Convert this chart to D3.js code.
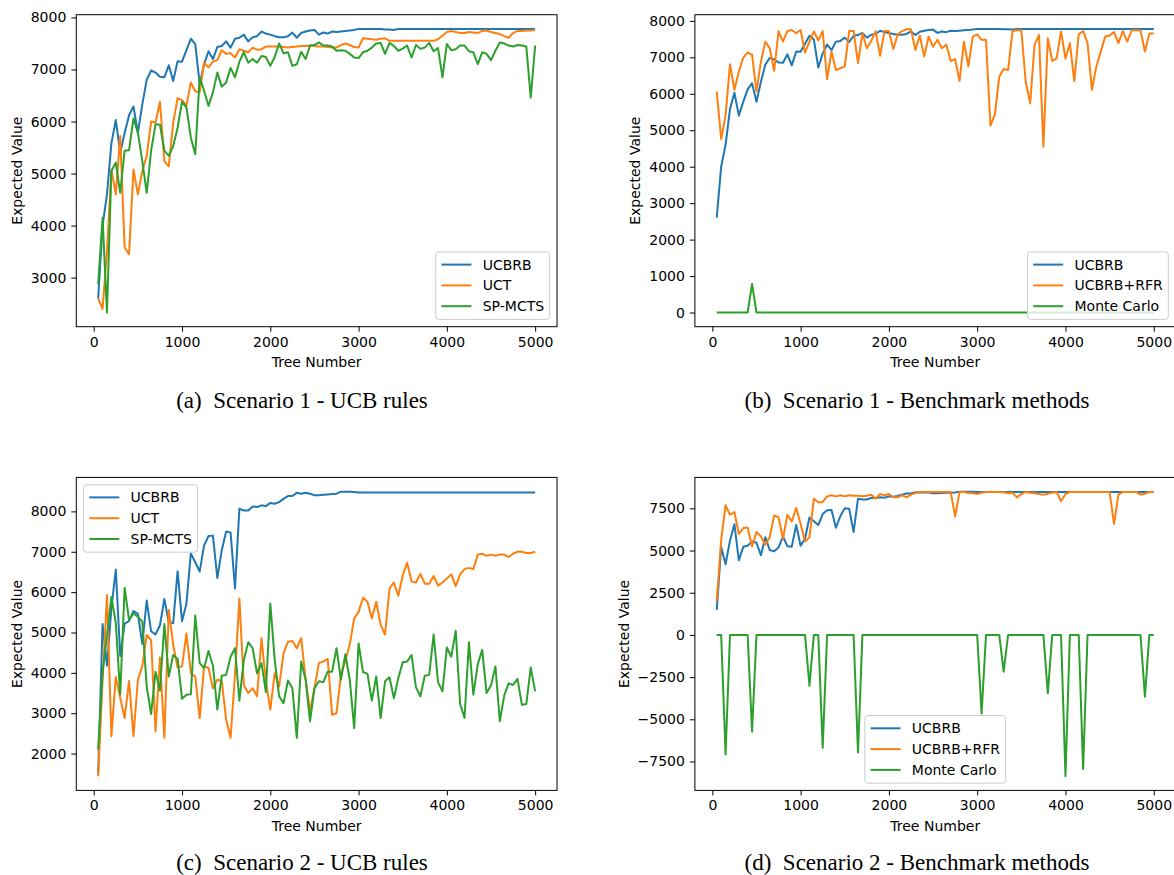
<!DOCTYPE html>
<html>
<head>
<meta charset="utf-8">
<script src="https://cdn.jsdelivr.net/npm/d3@7"></script>
<style>
  body { margin: 0; background: #fff; }
  svg text { font-family: "DejaVu Sans", sans-serif; fill: #000; }
  .caption { font-family: "Liberation Serif", "Times New Roman", serif; font-size: 23px; white-space: pre; }
</style>
</head>
<body>
<svg id="fig" width="1174" height="875"></svg>
<script>
// tree numbers sampled every 50 trees
const treeNumbers = d3.range(50, 5001, 50);
const xTicks = [0, 1000, 2000, 3000, 4000, 5000];

// Scenario 1
const s1UCBRB = [2600, 4000, 4600, 5580, 6030, 5400, 5780, 6120, 6290, 5780,
  6330, 6800, 6980, 6940, 6860, 6850, 7080, 6780, 7160, 7150,
  7370, 7590, 7490, 6720, 7100, 7350, 7200, 7430, 7450, 7540,
  7420, 7590, 7610, 7670, 7540, 7620, 7640, 7730, 7690, 7670,
  7640, 7620, 7620, 7640, 7710, 7610, 7700, 7730, 7750, 7760,
  7670, 7710, 7690, 7730, 7720, 7730, 7740, 7750, 7760, 7780,
  7780, 7780, 7780, 7780, 7780, 7770, 7770, 7760, 7780, 7780,
  7780, 7780, 7780, 7780, 7780, 7780, 7780, 7780, 7780, 7780,
  7780, 7780, 7780, 7780, 7780, 7780, 7780, 7780, 7780, 7780,
  7780, 7780, 7780, 7780, 7780, 7780, 7780, 7780, 7780, 7780];
const s1UCT = [2600, 2400, 3500, 5080, 4600, 5720, 3580, 3450, 5080, 4600,
  5050, 5340, 6000, 5980, 6380, 5240, 5140, 5980, 6450, 6410,
  6300, 6750, 6580, 6560, 7130, 7040, 7150, 7180, 7370, 7300,
  7310, 7230, 7390, 7360, 7330, 7420, 7380, 7390, 7440, 7440,
  7440, 7440, 7430, 7420, 7430, 7440, 7450, 7450, 7460, 7450,
  7440, 7440, 7430, 7420, 7420, 7470, 7500, 7470, 7430, 7420,
  7600, 7590, 7580, 7570, 7590, 7600, 7550, 7550, 7550, 7550,
  7550, 7550, 7550, 7550, 7550, 7550, 7550, 7580, 7650, 7720,
  7740, 7720, 7700, 7700, 7720, 7710, 7700, 7740, 7750, 7720,
  7700, 7680, 7640, 7610, 7700, 7740, 7740, 7750, 7750, 7760];
const s1SPMCTS = [2870, 4150, 2330, 5050, 5210, 4630, 5440, 5450, 6060, 5790,
  5240, 4630, 5440, 5950, 5940, 5440, 5340, 5530, 5880, 6380,
  6270, 5690, 5370, 6850, 6590, 6300, 6560, 6940, 6670, 6750,
  7030, 6850, 7150, 7330, 7130, 7200, 7130, 7260, 7240, 7070,
  7240, 7500, 7310, 7330, 7070, 7100, 7340, 7200, 7460, 7470,
  7520, 7460, 7460, 7440, 7360, 7370, 7360, 7300, 7230, 7220,
  7330, 7360, 7420, 7500, 7510, 7300, 7510, 7450, 7360, 7400,
  7460, 7230, 7470, 7400, 7420, 7510, 7350, 7410, 6850, 7490,
  7370, 7390, 7460, 7460, 7350, 7330, 7100, 7330, 7300, 7180,
  7360, 7520, 7500, 7460, 7440, 7470, 7460, 7440, 6460, 7460];
const s1RFR = [6060, 4760, 5400, 6810, 6110, 6610, 6990, 7130, 7070, 6060,
  6880, 7430, 7250, 6630, 7720, 7430, 7720, 7750, 7660, 7750,
  7130, 7430, 7710, 7460, 7720, 6400, 7160, 6650, 6700, 6750,
  7720, 7720, 6840, 7660, 7250, 7450, 7720, 7040, 7720, 7720,
  7230, 7630, 7720, 7770, 7770, 7200, 7600, 7020, 7570, 7290,
  7480, 7250, 7350, 6900, 6950, 6350, 7430, 6750, 7570, 7630,
  7480, 7480, 5130, 5420, 6470, 6680, 6650, 7720, 7740, 7740,
  6330, 5740, 7340, 7610, 4550, 7520, 6900, 6970, 7710, 6960,
  7390, 6350, 7630, 7720, 7390, 6110, 6750, 7160, 7570, 7600,
  7690, 7390, 7720, 7430, 7740, 7740, 7740, 7160, 7650, 7650];
const s1MonteCarlo = [0, 0, 0, 0, 0, 0, 0, 0, 780, 0,
  0, 0, 0, 0, 0, 0, 0, 0, 0, 0,
  0, 0, 0, 0, 0, 0, 0, 0, 0, 0,
  0, 0, 0, 0, 0, 0, 0, 0, 0, 0,
  0, 0, 0, 0, 0, 0, 0, 0, 0, 0,
  0, 0, 0, 0, 0, 0, 0, 0, 0, 0,
  0, 0, 0, 0, 0, 0, 0, 0, 0, 0,
  0, 0, 0, 0, 0, 0, 0, 0, 0, 0,
  0, 0, 0, 0, 0, 0, 0, 0, 0, 0,
  0, 0, 0, 0, 0, 0, 0, 0, 0, 0];

// Scenario 2
const s2UCBRB = [1480, 5210, 4180, 5600, 6560, 4420, 5220, 5280, 5530, 5460,
  4720, 5790, 5030, 4950, 5180, 5830, 5260, 5230, 6520, 5280,
  5710, 6960, 6740, 6510, 7160, 7390, 7400, 6350, 7040, 7500,
  7480, 6090, 8070, 8020, 8020, 8120, 8110, 8150, 8130, 8210,
  8190, 8230, 8310, 8380, 8380, 8460, 8440, 8460, 8440, 8400,
  8400, 8410, 8420, 8430, 8440, 8490, 8490, 8490, 8480, 8470,
  8470, 8470, 8470, 8470, 8470, 8470, 8470, 8470, 8470, 8470,
  8470, 8470, 8470, 8470, 8470, 8470, 8470, 8470, 8470, 8470,
  8470, 8470, 8470, 8470, 8470, 8470, 8470, 8470, 8470, 8470,
  8470, 8470, 8470, 8470, 8470, 8470, 8470, 8470, 8470, 8470];
const s2UCT = [1440, 3800, 5930, 2430, 3900, 3380, 2880, 3800, 2430, 3830,
  4160, 4940, 4810, 2550, 4380, 2390, 5560, 4690, 4130, 4160,
  4980, 3990, 3910, 2880, 4160, 4120, 3620, 3830, 3800, 2840,
  2390, 3950, 5840, 3700, 3500, 3620, 3420, 4860, 3790, 3090,
  3990, 3660, 4490, 4770, 4790, 4610, 4860, 3850, 3050, 3620,
  4240, 4280, 4350, 2960, 3000, 3950, 4300, 4700, 5350, 5510,
  5860, 5760, 5350, 5760, 5190, 4950, 6090, 6240, 5910, 6420,
  6730, 6260, 6240, 6450, 6210, 6210, 6400, 6160, 6240, 6340,
  6440, 6150, 6440, 6570, 6600, 6570, 6930, 6950, 6900, 6930,
  6900, 6930, 6930, 6870, 6950, 7000, 7000, 6970, 6970, 7000];
const s2SPMCTS = [2100, 4000, 4940, 5880, 5230, 3460, 6110, 5310, 5470, 5390,
  5270, 3660, 2980, 4030, 3560, 5210, 3910, 4440, 4350, 3360,
  3460, 3470, 5420, 4240, 4120, 4540, 4180, 3090, 3930, 3950,
  4400, 4610, 3310, 4320, 4760, 4610, 3990, 4240, 3520, 5720,
  4320, 3420, 3250, 3810, 3620, 2390, 4280, 3830, 2800, 3620,
  3790, 3770, 4030, 4030, 4610, 3830, 4460, 3830, 2630, 4730,
  4020, 3980, 3310, 3910, 2880, 3790, 3890, 3370, 3870, 4260,
  4280, 4440, 3640, 3420, 3930, 3950, 4950, 3770, 3540, 4630,
  4400, 5040, 3230, 2880, 4760, 3460, 4210, 4570, 3500, 3690,
  4160, 2800, 3440, 3740, 3700, 3850, 3210, 3230, 4130, 3540];
const s2RFR = [2020, 5640, 7680, 7120, 7280, 5980, 6330, 6370, 5240, 6100,
  5840, 5340, 5780, 7080, 6970, 5700, 7120, 6730, 7520, 6570,
  5540, 5780, 8070, 7860, 7880, 8210, 8270, 8210, 8270, 8210,
  8270, 8250, 8250, 8210, 8250, 8310, 8070, 8350, 8270, 8350,
  8150, 8150, 8270, 8150, 8310, 8410, 8470, 8470, 8470, 8470,
  8470, 8470, 8470, 8470, 7030, 8470, 8470, 8410, 8390, 8350,
  8430, 8470, 8470, 8470, 8470, 8450, 8400, 8430, 8150, 8350,
  8470, 8430, 8390, 8350, 8310, 8370, 8430, 8470, 7920, 8350,
  8470, 8470, 8470, 8470, 8470, 8470, 8470, 8470, 8470, 8470,
  6580, 8310, 8470, 8470, 8470, 8470, 8310, 8370, 8470, 8470];
const s2MonteCarlo = [0, 0, -7080, 0, 0, 0, 0, 0, -5740, 0,
  0, 0, 0, 0, 0, 0, 0, 0, 0, 0,
  0, -3010, 0, 0, -6690, 0, 0, 0, 0, 0,
  0, 0, -6970, 0, 0, 0, 0, 0, 0, 0,
  0, 0, 0, 0, 0, 0, 0, 0, 0, 0,
  0, 0, 0, 0, 0, 0, 0, 0, 0, 0,
  -4650, 0, 0, 0, 0, -2180, 0, 0, 0, 0,
  0, 0, 0, 0, 0, -3460, 0, 0, 0, -8370,
  0, 0, 0, -7950, 0, 0, 0, 0, 0, 0,
  0, 0, 0, 0, 0, 0, 0, -3660, 0, 0];

const yTicksA = [3000, 4000, 5000, 6000, 7000, 8000];
const yTicksB = [0, 1000, 2000, 3000, 4000, 5000, 6000, 7000, 8000];
const yTicksC = [2000, 3000, 4000, 5000, 6000, 7000, 8000];
const yTicksD = [-7500, -5000, -2500, 0, 2500, 5000, 7500];

const ucbNames = ["UCBRB", "UCT", "SP-MCTS"];
const benchNames = ["UCBRB", "UCBRB+RFR", "Monte Carlo"];
const captions = ["(a)  Scenario 1 - UCB rules", "(b)  Scenario 1 - Benchmark methods",
  "(c)  Scenario 2 - UCB rules", "(d)  Scenario 2 - Benchmark methods"];

const colors = ["#1f77b4", "#ff7f0e", "#2ca02c"];
const fontSize = 14;

// plot boxes
const colLeft = [76.3, 694.9];
const rowTop = [14.7, 477.4];
const plotW = 480.7;
const plotH = [312, 313];
const captionX = [302, 917];
const captionY = [408, 870];

const panels = [
  { col: 0, row: 0, yTicks: yTicksA, names: ucbNames, data: [s1UCBRB, s1UCT, s1SPMCTS], legend: "lower right", caption: captions[0] },
  { col: 1, row: 0, yTicks: yTicksB, names: benchNames, data: [s1UCBRB, s1RFR, s1MonteCarlo], legend: "lower right", caption: captions[1] },
  { col: 0, row: 1, yTicks: yTicksC, names: ucbNames, data: [s2UCBRB, s2UCT, s2SPMCTS], legend: "upper left", caption: captions[2] },
  { col: 1, row: 1, yTicks: yTicksD, names: benchNames, data: [s2UCBRB, s2RFR, s2MonteCarlo], legend: "lower center", caption: captions[3] }
];

const svg = d3.select("#fig");
svg.append("rect").attr("width", 1174).attr("height", 875).attr("fill", "#fff");

panels.forEach((p) => {
  const left = colLeft[p.col];
  const top = rowTop[p.row];
  const height = plotH[p.row];

  // matplotlib style 5% margins
  const xPad = (d3.max(treeNumbers) - d3.min(treeNumbers)) * 0.05;
  const x = d3.scaleLinear()
    .domain([d3.min(treeNumbers) - xPad, d3.max(treeNumbers) + xPad])
    .range([0, plotW]);
  const allVals = p.data.flat();
  const yMin = d3.min(allVals), yMax = d3.max(allVals);
  const yPad = (yMax - yMin) * 0.05;
  const y = d3.scaleLinear()
    .domain([yMin - yPad, yMax + yPad])
    .range([height, 0]);

  const g = svg.append("g").attr("transform", `translate(${left}, ${top})`);

  // lines
  const line = d3.line()
    .x((d, i) => x(treeNumbers[i]))
    .y((d) => y(d));
  p.data.forEach((vals, i) => {
    g.append("path")
      .datum(vals)
      .attr("fill", "none")
      .attr("stroke", colors[i])
      .attr("stroke-width", 2)
      .attr("stroke-linejoin", "round")
      .attr("d", line);
  });

  // axes
  const xAxis = g.append("g")
    .attr("transform", `translate(0, ${height})`)
    .call(d3.axisBottom(x).tickValues(xTicks).tickSize(5).tickPadding(5).tickFormat(d3.format("d")));
  const yAxis = g.append("g")
    .call(d3.axisLeft(y).tickValues(p.yTicks).tickSize(5).tickPadding(5).tickFormat(d3.format("d")));
  [xAxis, yAxis].forEach((ax) => {
    ax.select(".domain").remove();
    ax.selectAll(".tick line").attr("stroke", "#000").attr("stroke-width", 1);
    ax.selectAll(".tick text").style("font-size", fontSize + "px").style("font-family", "DejaVu Sans");
  });

  // frame
  g.append("rect")
    .attr("width", plotW)
    .attr("height", height)
    .attr("fill", "none")
    .attr("stroke", "#000")
    .attr("stroke-width", 1);

  // axis titles
  g.append("text")
    .attr("x", plotW / 2)
    .attr("y", height + 40.5)
    .attr("text-anchor", "middle")
    .style("font-size", fontSize + "px")
    .text("Tree Number");

  let minX = 0;
  yAxis.selectAll(".tick text").each(function () {
    const b = this.getBBox();
    minX = Math.min(minX, b.x - 5);
  });
  g.append("text")
    .attr("transform", `translate(${minX - 4}, ${height / 2}) rotate(-90)`)
    .attr("text-anchor", "middle")
    .style("font-size", fontSize + "px")
    .text("Expected Value");

  // legend
  const lg = g.append("g");
  const box = lg.append("rect")
    .attr("fill", "#fff")
    .attr("fill-opacity", 0.8)
    .attr("stroke", "#cccccc")
    .attr("stroke-width", 1)
    .attr("rx", 3);
  let textW = 0;
  p.names.forEach((name, i) => {
    const cy = 12.7 + i * 20.8;
    lg.append("line")
      .attr("x1", 5.7).attr("x2", 35.7)
      .attr("y1", cy).attr("y2", cy)
      .attr("stroke", colors[i])
      .attr("stroke-width", 2);
    const t = lg.append("text")
      .attr("x", 47)
      .attr("y", cy + 5)
      .style("font-size", fontSize + "px")
      .text(name);
    textW = Math.max(textW, t.node().getComputedTextLength());
  });
  const boxW = 47 + textW + 5.6;
  const boxH = 67.5;
  box.attr("width", boxW).attr("height", boxH);
  const pad = 7.3;
  let lx, ly;
  if (p.legend === "lower right") { lx = plotW - pad - boxW; ly = height - pad - boxH; }
  else if (p.legend === "upper left") { lx = pad; ly = pad; }
  else { lx = (plotW - boxW) / 2; ly = height - pad - boxH; }
  lg.attr("transform", `translate(${lx}, ${ly})`);

  // caption
  svg.append("text")
    .attr("class", "caption")
    .attr("x", captionX[p.col])
    .attr("y", captionY[p.row])
    .attr("text-anchor", "middle")
    .text(p.caption);
});
</script>
</body>
</html>
